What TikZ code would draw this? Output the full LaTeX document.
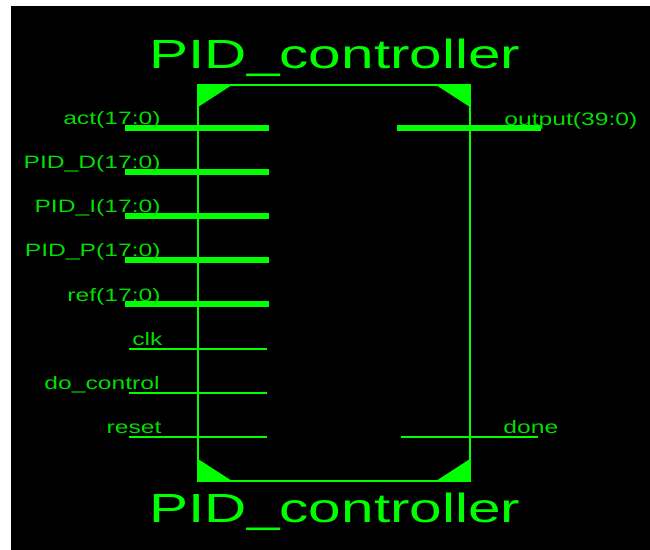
\documentclass[tikz,border=0pt]{standalone}
\usepackage{fontspec}
\setmainfont{Liberation Sans}
\definecolor{wire}{RGB}{0,255,0}
\definecolor{label}{RGB}{0,225,0}
\tikzset{
	bus/.style={draw=wire, line width=3pt},
	net/.style={draw=wire, line width=0.6pt},
	title/.style={text=wire, font=\fontsize{23.2}{25}\selectfont, xscale=1.435, inner sep=0pt},
	portl/.style={text=label, font=\fontsize{10.2}{12}\selectfont, xscale=1.375, inner sep=0pt, anchor=base east},
	portr/.style={text=label, font=\fontsize{10.2}{12}\selectfont, xscale=1.375, inner sep=0pt, anchor=base west},
}
\begin{document}
\begin{tikzpicture}[x=0.02cm, y=-0.02cm]

% background %{{{1

	\useasboundingbox (0,0) rectangle (650,550);
	\fill[white] (0,0) rectangle (650,550);
	\fill[black] (11,6) rectangle (650,550);

% coordinates %{{{1

	\coordinate (NW) at (198,85);
	\coordinate (NE) at (470,85);
	\coordinate (SE) at (470,481);
	\coordinate (SW) at (198,481);

	\coordinate (actA) at (125,128);
	\coordinate (actB) at (269,128);
	\coordinate (dA) at (125,172);
	\coordinate (dB) at (269,172);
	\coordinate (iA) at (125,216);
	\coordinate (iB) at (269,216);
	\coordinate (pA) at (125,260);
	\coordinate (pB) at (269,260);
	\coordinate (refA) at (125,304);
	\coordinate (refB) at (269,304);

	\coordinate (clkA) at (129,349);
	\coordinate (clkB) at (267,349);
	\coordinate (ctrlA) at (129,393);
	\coordinate (ctrlB) at (267,393);
	\coordinate (rstA) at (129,437);
	\coordinate (rstB) at (267,437);

	\coordinate (outA) at (397,128);
	\coordinate (outB) at (541,128);
	\coordinate (doneA) at (401,437);
	\coordinate (doneB) at (538,437);

% block %{{{1

	\draw[wire, line width=0.85pt] (NW) -- (NE) -- (SE) -- (SW) -- cycle;

% corners %{{{1

	\fill[wire] (NW) -- ++(34,0) -- ++(-34,22) -- cycle;
	\fill[wire] (NE) -- ++(-34,0) -- ++(34,22) -- cycle;
	\fill[wire] (SE) -- ++(-34,0) -- ++(34,-22) -- cycle;
	\fill[wire] (SW) -- ++(34,0) -- ++(-34,-22) -- cycle;

% ports %{{{1

	\draw[bus] (actA) -- (actB);
	\draw[bus] (dA) -- (dB);
	\draw[bus] (iA) -- (iB);
	\draw[bus] (pA) -- (pB);
	\draw[bus] (refA) -- (refB);
	\draw[bus] (outA) -- (outB);

	\draw[net] (clkA) -- (clkB);
	\draw[net] (ctrlA) -- (ctrlB);
	\draw[net] (rstA) -- (rstB);
	\draw[net] (doneA) -- (doneB);

% port labels %{{{1

	\node[portl] (actL) at (161,125) {act(17:0)};
	\node[portl] (dL) at (161,169) {PID\_D(17:0)};
	\node[portl] (iL) at (161,213) {PID\_I(17:0)};
	\node[portl] (pL) at (161,257) {PID\_P(17:0)};
	\node[portl] (refL) at (161,302) {ref(17:0)};
	\node[portl] (clkL) at (163,346) {clk};
	\node[portl] (ctrlL) at (160,390) {do\_control};
	\node[portl] (rstL) at (162,434) {reset};

	\node[portr] (outL) at (504,126) {output(39:0)};
	\node[portr] (doneL) at (503,434) {done};

% block labels %{{{1

	\node[title, anchor=base] (nameT) at (335,69) {PID\_controller};
	\node[title, anchor=base] (nameB) at (335,523) {PID\_controller};

% closing %{{{1

\end{tikzpicture}
\end{document}
